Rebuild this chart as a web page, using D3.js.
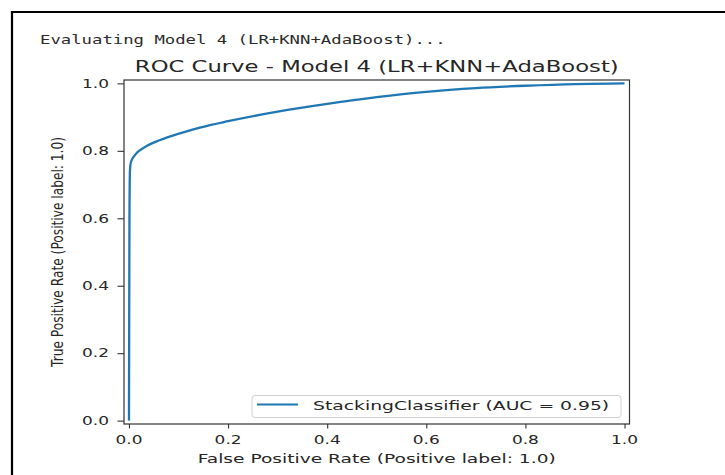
<!DOCTYPE html>
<html>
<head>
<meta charset="utf-8">
<script src="https://cdn.jsdelivr.net/npm/d3@7"></script>
<style>
  html, body { margin: 0; padding: 0; background: #fff; }
  svg { display: block; }
</style>
</head>
<body>
<svg id="chart" width="725" height="475"></svg>
<script>
// ROC curve points (false positive rate vs true positive rate)
const fpr = [0, 0.001, 0.002, 0.004, 0.012, 0.032, 0.063, 0.103, 0.143, 0.20, 0.30, 0.40, 0.50, 0.60, 0.70, 0.80, 0.90, 1.0];
const tpr = [0, 0.60, 0.74, 0.767, 0.787, 0.811, 0.832, 0.852, 0.869, 0.888, 0.916, 0.939, 0.959, 0.975, 0.986, 0.993, 0.998, 1.0];
const xTicks = [0.0, 0.2, 0.4, 0.6, 0.8, 1.0];
const yTicks = [0.0, 0.2, 0.4, 0.6, 0.8, 1.0];
const consoleLine = "Evaluating Model 4 (LR+KNN+AdaBoost)...";
const titleText = "ROC Curve - Model 4 (LR+KNN+AdaBoost)";
const xLabelText = "False Positive Rate (Positive label: 1.0)";
const yLabelText = "True Positive Rate (Positive label: 1.0)";
const legendText = "StackingClassifier (AUC = 0.95)";

const svg = d3.select("#chart");
const ink = "#262626";
const SX = 1.34, SY = 0.92;   // output is stretched wider than tall

// outer frame around the output cell
svg.append("line").attr("x1", 11).attr("x2", 725).attr("y1", 12).attr("y2", 12)
  .attr("stroke", "#000").attr("stroke-width", 2.2);
svg.append("line").attr("x1", 12).attr("x2", 12).attr("y1", 11).attr("y2", 475)
  .attr("stroke", "#000").attr("stroke-width", 2.2);

// helper: text placed at (x,y) with a non-uniform stretch
function label(x, y, txt, opts) {
  const o = Object.assign({ size: 13.9, anchor: "start", sx: SX, sy: SY, family: "DejaVu Sans", fill: ink }, opts || {});
  return svg.append("text")
    .attr("transform", `translate(${x},${y}) scale(${o.sx},${o.sy})`)
    .attr("text-anchor", o.anchor)
    .attr("font-family", o.family)
    .attr("font-size", o.size)
    .attr("fill", o.fill)
    .text(txt);
}

// console text above the figure
label(40, 44, consoleLine, { family: "DejaVu Sans Mono", size: 13, sx: 1.33, sy: 0.9, fill: "#2b2b2b" });

// scales
const x = d3.scaleLinear().domain([-0.01, 1.01]).range([124, 629.5]);
const y = d3.scaleLinear().domain([-0.01, 1.01]).range([424, 80]);

// curve
const line = d3.line()
  .x((d, i) => x(fpr[i]))
  .y((d, i) => y(tpr[i]))
  .curve(d3.curveMonotoneX);
svg.append("path")
  .datum(fpr)
  .attr("d", line)
  .attr("fill", "none")
  .attr("stroke", "#1f77b4")
  .attr("stroke-width", 2.3)
  .attr("stroke-linejoin", "round");

// axes (ticks drawn with d3 axes, labels placed separately for stretch)
const xAxis = svg.append("g").attr("transform", "translate(0,424)")
  .call(d3.axisBottom(x).tickValues(xTicks).tickSize(4.5).tickFormat(""));
const yAxis = svg.append("g").attr("transform", "translate(124,0)")
  .call(d3.axisLeft(y).tickValues(yTicks).tickSize(6.5).tickFormat(""));
[xAxis, yAxis].forEach(g => {
  g.select(".domain").remove();
  g.selectAll(".tick line").attr("stroke", "#333").attr("stroke-width", 1.1);
});

xTicks.forEach(t => label(x(t), 444, t.toFixed(1), { anchor: "middle", sx: 1.22 }));
yTicks.forEach(t => label(109, y(t) + 4.3, t.toFixed(1), { anchor: "end", sx: 1.22 }));

// spines
svg.append("rect")
  .attr("x", x.range()[0]).attr("y", y.range()[1])
  .attr("width", x.range()[1] - x.range()[0])
  .attr("height", y.range()[0] - y.range()[1])
  .attr("fill", "none").attr("stroke", "#333").attr("stroke-width", 1.2);

// title and axis labels
const cx = (x.range()[0] + x.range()[1]) / 2;
const cy = (y.range()[0] + y.range()[1]) / 2;
label(cx, 72, titleText, { anchor: "middle", size: 16.7, sx: 1.36 });
label(cx, 463, xLabelText, { anchor: "middle" });
label(0, 0, yLabelText, { anchor: "middle", size: 13.0 })
  .attr("transform", `translate(63,${cy}) scale(0.94,0.94) rotate(-90) scale(1,1.3)`);

// legend
const lg = svg.append("g");
lg.append("rect").attr("x", 252).attr("y", 395.5).attr("width", 369).attr("height", 22)
  .attr("rx", 3).attr("fill", "#fff").attr("fill-opacity", 0.8)
  .attr("stroke", "#d0d0d0").attr("stroke-width", 1);
lg.append("line").attr("x1", 257).attr("x2", 298).attr("y1", 404.5).attr("y2", 404.5)
  .attr("stroke", "#1f77b4").attr("stroke-width", 2);
label(313, 410, legendText, { sx: 1.35 });
</script>
</body>
</html>
